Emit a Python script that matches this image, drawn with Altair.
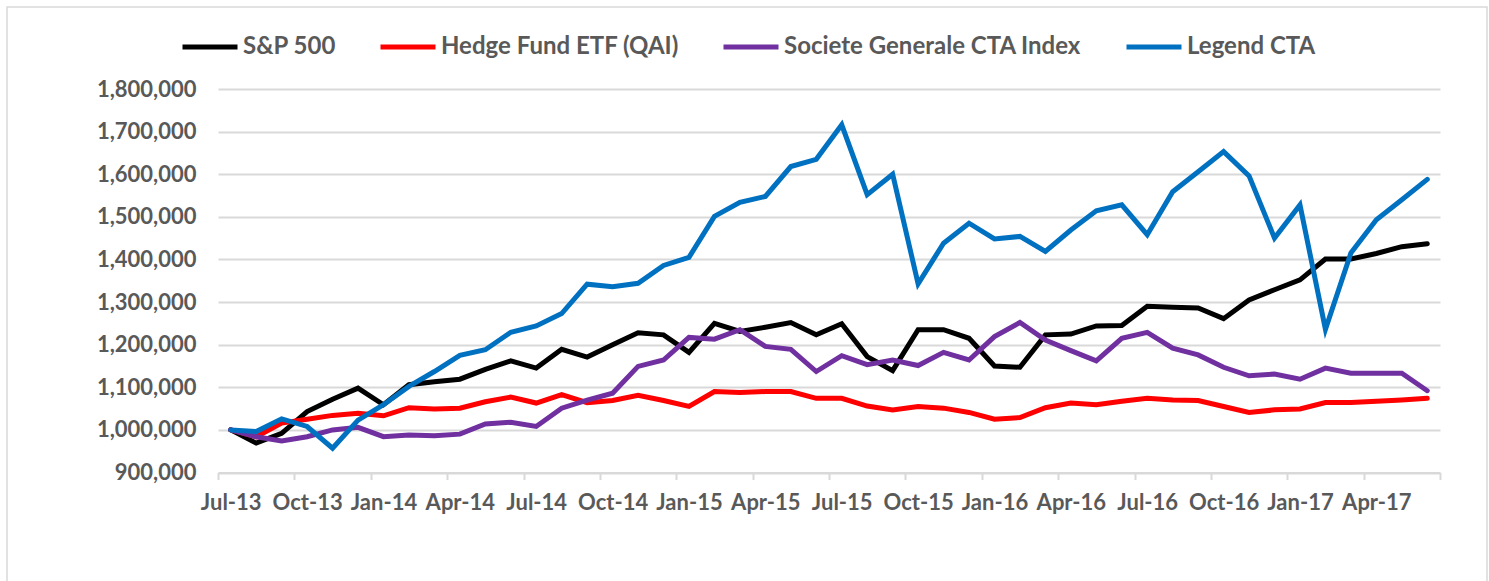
import altair as alt
import pandas as pd

months = ["Jul-13", "Aug-13", "Sep-13", "Oct-13", "Nov-13", "Dec-13",
          "Jan-14", "Feb-14", "Mar-14", "Apr-14", "May-14", "Jun-14",
          "Jul-14", "Aug-14", "Sep-14", "Oct-14", "Nov-14", "Dec-14",
          "Jan-15", "Feb-15", "Mar-15", "Apr-15", "May-15", "Jun-15",
          "Jul-15", "Aug-15", "Sep-15", "Oct-15", "Nov-15", "Dec-15",
          "Jan-16", "Feb-16", "Mar-16", "Apr-16", "May-16", "Jun-16",
          "Jul-16", "Aug-16", "Sep-16", "Oct-16", "Nov-16", "Dec-16",
          "Jan-17", "Feb-17", "Mar-17", "Apr-17", "May-17", "Jun-17"]

tick_labels = ["Jul-13", "Oct-13", "Jan-14", "Apr-14", "Jul-14", "Oct-14",
               "Jan-15", "Apr-15", "Jul-15", "Oct-15", "Jan-16", "Apr-16",
               "Jul-16", "Oct-16", "Jan-17", "Apr-17"]

series_names = ["S&P 500", "Hedge Fund ETF (QAI)", "Societe Generale CTA Index", "Legend CTA"]
series_colors = ["#000000", "#FF0000", "#7030A0", "#0070C0"]

# values in thousands
sp500 = [1000, 969, 992, 1043, 1072, 1098, 1059, 1106, 1113, 1119,
         1142, 1162, 1145, 1189, 1171, 1200, 1228, 1223, 1182, 1250,
         1231, 1241, 1252, 1223, 1249, 1172, 1139, 1235, 1235, 1215,
         1150, 1147, 1223, 1225, 1244, 1245, 1290, 1288, 1286, 1261,
         1305, 1329, 1352, 1401, 1401, 1414, 1430, 1437]

qai = [1000, 984, 1016, 1025, 1034, 1039, 1033, 1052, 1049, 1051,
       1066, 1077, 1063, 1083, 1064, 1069, 1081, 1069, 1055, 1090,
       1088, 1090, 1090, 1074, 1074, 1056, 1047, 1055, 1051, 1041,
       1025, 1029, 1052, 1063, 1059, 1067, 1074, 1070, 1069, 1055,
       1041, 1047, 1049, 1064, 1064, 1067, 1070, 1074]

sg_cta = [1000, 984, 974, 984, 1000, 1006, 984, 988, 986, 990,
          1014, 1018, 1008, 1051, 1070, 1086, 1149, 1164, 1217, 1213,
          1235, 1196, 1189, 1137, 1174, 1153, 1164, 1151, 1182, 1164,
          1219, 1252, 1211, 1186, 1162, 1215, 1229, 1192, 1176, 1147,
          1127, 1131, 1119, 1145, 1133, 1133, 1133, 1092]

legend_cta = [1000, 996, 1026, 1008, 957, 1023, 1059, 1102, 1137, 1175,
              1188, 1229, 1244, 1273, 1342, 1336, 1344, 1386, 1405, 1501,
              1534, 1548, 1618, 1635, 1716, 1552, 1600, 1343, 1438, 1485,
              1448, 1454, 1419, 1469, 1514, 1528, 1458, 1559, 1606, 1653,
              1596, 1450, 1528, 1236, 1415, 1493, 1540, 1588]

rows = []
for name, vals in zip(series_names, [sp500, qai, sg_cta, legend_cta]):
    for i, (m, v) in enumerate(zip(months, vals)):
        rows.append({"series": name, "month": m, "i": i, "value": v * 1000})
df = pd.DataFrame(rows)

W, H = 1222, 383.5
n = len(months)
boundaries = [-0.5 + 3 * k for k in range(n // 3 + 1)]
label_js = "[" + ",".join("'" + t + "'" for t in tick_labels) + "]"
label_expr = label_js + "[round((datum.value + 0.5) / 3)] || ''"

FONT = "Lato"
GRAY = "#595959"
LIGHT = "#d9d9d9"

lines = alt.Chart(df).mark_line(strokeWidth=5, strokeCap="round").encode(
    x=alt.X("i:Q",
            scale=alt.Scale(domain=[-0.5, n - 0.5], nice=False, zero=False),
            axis=alt.Axis(values=boundaries, labelExpr=label_expr,
                          labelOffset=W / n / 2, title=None, grid=False,
                          tickSize=7, tickWidth=2, tickColor=LIGHT,
                          domainColor=LIGHT, domainWidth=2,
                          labelFont=FONT, labelFontWeight="bold",
                          labelFontSize=22, labelColor=GRAY,
                          labelPadding=13, labelOverlap=False,
                          labelFlush=False, labelBound=False)),
    y=alt.Y("value:Q",
            scale=alt.Scale(domain=[900000, 1800000], nice=False, zero=False),
            axis=alt.Axis(values=list(range(900000, 1800001, 100000)),
                          format=",.0f", title=None, ticks=False, domain=False,
                          gridColor=LIGHT, gridWidth=2,
                          labelFont=FONT, labelFontWeight="bold",
                          labelFontSize=22, labelColor=GRAY,
                          labelPadding=22)),
    color=alt.Color("series:N",
                    scale=alt.Scale(domain=series_names, range=series_colors),
                    legend=alt.Legend(orient="none", legendX=-38, legendY=-72,
                                      direction="horizontal", title=None,
                                      symbolType="stroke", symbolSize=3025,
                                      symbolStrokeWidth=5, labelFont=FONT,
                                      labelFontWeight="bold", labelFontSize=24,
                                      labelColor=GRAY, columnPadding=34,
                                      labelOffset=3, labelLimit=500)),
    detail="series:N",
)

frame = alt.Chart(pd.DataFrame({"k": [0]})).mark_rect(
    fillOpacity=0, stroke=LIGHT, strokeWidth=1.5
).encode(
    x=alt.value(-211), x2=alt.value(1269), y=alt.value(-82), y2=alt.value(520)
)

chart = alt.layer(frame, lines).properties(
    width=W, height=H,
    padding={"left": 218, "top": 89, "right": 49, "bottom": 108},
    autosize=alt.AutoSizeParams(type="none"),
    background="white",
).configure_view(stroke=None)

chart.save("out.html", embed_options={"renderer": "svg", "actions": False})
